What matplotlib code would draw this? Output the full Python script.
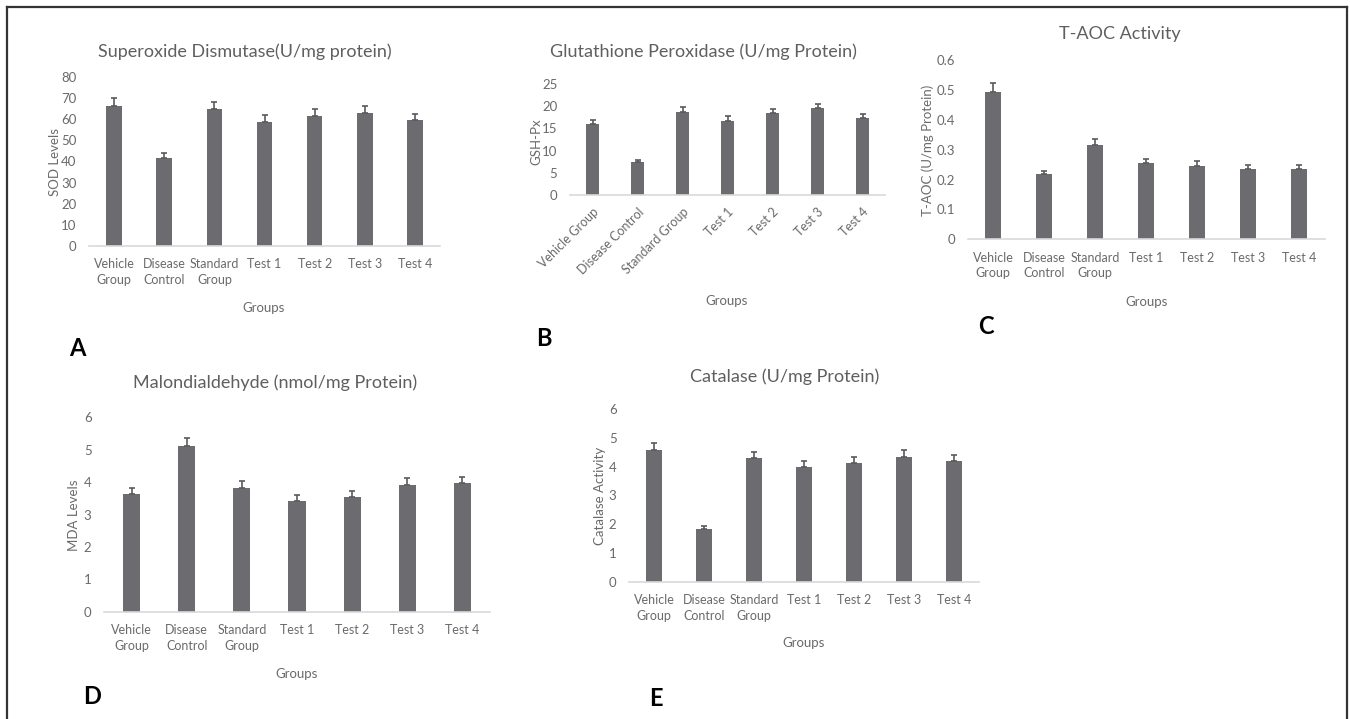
import matplotlib
matplotlib.use('Agg')
import matplotlib.pyplot as plt
from matplotlib.lines import Line2D
from matplotlib.ticker import FuncFormatter
import numpy as np

W, H = 1350, 719
plt.rcParams['font.family'] = ['Lato', 'DejaVu Sans']

groups = ['Vehicle\nGroup', 'Disease\nControl', 'Standard\nGroup', 'Test 1', 'Test 2', 'Test 3', 'Test 4']
groups_flat = ['Vehicle Group', 'Disease Control', 'Standard Group', 'Test 1', 'Test 2', 'Test 3', 'Test 4']

sod = [66.3, 41.8, 64.7, 58.8, 61.7, 62.8, 59.5]
sod_err = [3.9, 2.2, 3.3, 3.2, 3.3, 3.3, 3.1]
gsh = [16.1, 7.4, 18.7, 16.7, 18.4, 19.5, 17.3]
gsh_err = [0.9, 0.5, 1.05, 1.0, 1.0, 1.0, 0.9]
taoc = [0.494, 0.218, 0.315, 0.256, 0.245, 0.236, 0.236]
taoc_err = [0.030, 0.011, 0.020, 0.013, 0.016, 0.013, 0.013]
mda = [3.63, 5.10, 3.82, 3.43, 3.55, 3.90, 3.97]
mda_err = [0.19, 0.25, 0.22, 0.18, 0.18, 0.22, 0.19]
cat = [4.58, 1.84, 4.29, 3.98, 4.11, 4.33, 4.20]
cat_err = [0.24, 0.08, 0.20, 0.21, 0.21, 0.24, 0.21]

BAR = '#6c6c70'
TXT = '#6a6a6a'

fig = plt.figure(figsize=(W/100, H/100), dpi=100)

def px(x, y):
    return x / W, 1 - y / H

def panel(x0, x1, ytop, ybot, ymax, step, vals, errs, labels, title, tpos,
          ylab, ypos, gpos, letter, lpos, rot=False, fmt=None):
    ax = fig.add_axes([x0/W, 1-ybot/H, (x1-x0)/W, (ybot-ytop)/H])
    x = np.arange(len(vals))
    ax.bar(x, vals, width=0.31, color=BAR, zorder=2)
    ax.errorbar(x, vals, yerr=[np.zeros(len(vals)), errs], fmt='none',
                ecolor='#5a5a5a', elinewidth=1.2, capsize=2.5, capthick=1.2, zorder=3)
    ax.set_xlim(-0.5, len(vals)-0.5)
    ax.set_ylim(0, ymax)
    ax.set_yticks(np.arange(0, ymax + step/2, step))
    if fmt:
        ax.yaxis.set_major_formatter(FuncFormatter(fmt))
    for s in ['top', 'right', 'left']:
        ax.spines[s].set_visible(False)
    ax.spines['bottom'].set_color('#d9d9d9')
    ax.spines['bottom'].set_linewidth(1.2)
    ax.tick_params(length=0, colors=TXT, labelsize=9)
    ax.tick_params(axis='y', pad=9, labelsize=9.5)
    ax.set_xticks(x)
    if rot:
        ax.set_xticklabels(labels, rotation=45, ha='right', rotation_mode='anchor')
        ax.tick_params(axis='x', pad=8)
    else:
        ax.set_xticklabels(labels, linespacing=1.35)
        ax.tick_params(axis='x', pad=9)
    ax.patch.set_alpha(0)
    fx, fy = px(*tpos)
    fig.text(fx, fy, title, ha='center', va='center', fontsize=13, color='#5f5f5f')
    fx, fy = px(*ypos)
    fig.text(fx, fy, ylab, ha='center', va='center', rotation=90, fontsize=9.5, color=TXT)
    fx, fy = px(*gpos)
    fig.text(fx, fy, 'Groups', ha='center', va='center', fontsize=9.5, color=TXT)
    fx, fy = px(*lpos)
    fig.text(fx, fy, letter, ha='center', va='center', fontsize=17, fontweight='bold', color='black')
    return ax

panel(89, 440, 77, 246, 80, 10, sod, sod_err, groups,
      'Superoxide Dismutase(U/mg protein)', (245, 52), 'SOD Levels', (55, 162),
      (264, 308), 'A', (77, 348))
panel(570, 885, 84, 195, 25, 5, gsh, gsh_err, groups_flat,
      'Glutathione Peroxidase (U/mg Protein)', (703, 52), 'GSH-Px', (536, 142),
      (727, 301), 'B', (544, 338), rot=True)
panel(967.5, 1324.5, 60, 239.3, 0.6, 0.1, taoc, taoc_err, groups,
      'T-AOC Activity', (1120, 34), 'T-AOC (U/mg Protein)', (928, 150),
      (1147, 302), 'C', (986, 326), fmt=lambda v, p: '0' if v == 0 else f'{v:.1f}')
panel(104, 490, 417.3, 611.7, 6, 1, mda, mda_err, groups,
      'Malondialdehyde (nmol/mg Protein)', (275, 383), 'MDA Levels', (74, 515),
      (297, 674), 'D', (92, 696))
panel(629, 979, 409, 581.7, 6, 1, cat, cat_err, groups,
      'Catalase (U/mg Protein)', (785, 377), 'Catalase Activity', (600, 496),
      (804, 643), 'E', (656, 698))

# outer frame
for xs, ys in [((7, 7), (7, 730)), ((7, 1347), (7, 7)), ((1347, 1347), (7, 730))]:
    fig.add_artist(Line2D([x/W for x in xs], [1 - y/H for y in ys], color='#333333', lw=1.6))

fig.savefig('out.png', dpi=100)
